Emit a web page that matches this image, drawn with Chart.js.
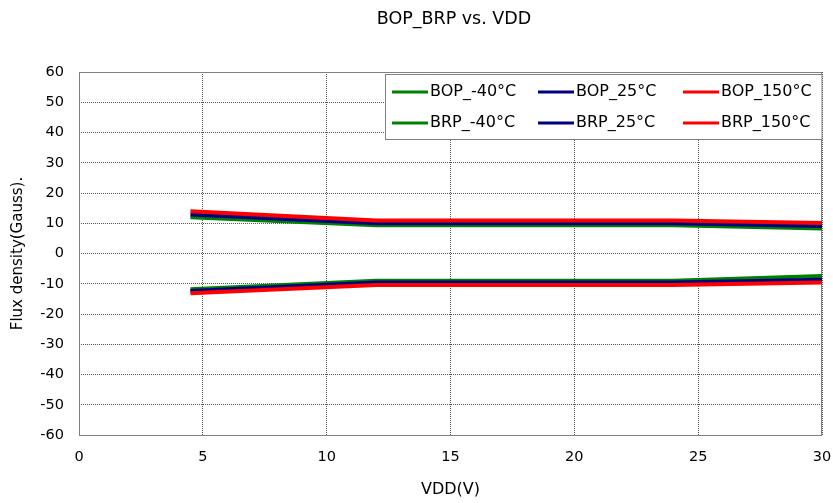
<!DOCTYPE html>
<html>
<head>
<meta charset="utf-8">
<title>BOP_BRP vs. VDD</title>
<script src="https://cdn.jsdelivr.net/npm/chart.js@4/dist/chart.umd.min.js"></script>
<style>
  html, body { margin: 0; padding: 0; background: #fff; }
  #wrap { width: 833px; height: 503px; }
</style>
</head>
<body>
<div id="wrap"><canvas id="bopBrpChart" width="833" height="503"></canvas></div>
<script>
// Supply voltage sample points (V)
const vddPoints = [4.5, 12, 24, 30];

// Operate points (Gauss) per temperature
const bopMinus40 = [12.0, 9.3, 9.3, 8.3];
const bop25 = [12.9, 10.0, 10.0, 9.1];
const bop150 = [14.0, 10.9, 10.9, 10.1];

// Release points (Gauss) per temperature
const brpMinus40 = [-11.8, -9.0, -9.0, -7.4];
const brp25 = [-12.4, -9.6, -9.6, -8.7];
const brp150 = [-13.1, -10.4, -10.4, -9.6];

const seriesLabels = ["BOP_-40°C", "BOP_25°C", "BOP_150°C", "BRP_-40°C", "BRP_25°C", "BRP_150°C"];
const seriesValues = [bopMinus40, bop25, bop150, brpMinus40, brp25, brp150];
const seriesColors = ["#008000", "#000080", "#ff0000", "#008000", "#000080", "#ff0000"];

const xTicks = [0, 5, 10, 15, 20, 25, 30];
const yTicks = [-60, -50, -40, -30, -20, -10, 0, 10, 20, 30, 40, 50, 60];

const FONT = "'DejaVu Sans', Verdana, sans-serif";

function toPoints(values) {
  return values.map((v, i) => ({ x: vddPoints[i], y: v }));
}

// Centre the chart title over the plot instead of the whole canvas
const titleOverPlot = {
  id: "titleOverPlot",
  afterLayout(chart) {
    const t = chart.titleBlock;
    if (!t) return;
    t.left = chart.chartArea.left + 7;
    t.right = chart.chartArea.right;
  },
};

// Gray frame round the plot area
const plotFrame = {
  id: "plotFrame",
  beforeDatasetsDraw(chart) {
    const { ctx, chartArea: a } = chart;
    ctx.save();
    ctx.strokeStyle = "#808080";
    ctx.lineWidth = 1;
    ctx.strokeRect(Math.round(a.left) + 0.5, Math.round(a.top) + 0.5,
      Math.round(a.right - a.left) - 1, Math.round(a.bottom - a.top));
    ctx.restore();
  },
};

// Boxed legend in the top right corner of the plot, three columns by two rows
const boxLegend = {
  id: "boxLegend",
  afterDraw(chart) {
    const { ctx, chartArea: a } = chart;
    const boxLeft = 385.5, boxTop = 74.5;
    const boxW = Math.round(a.right) - boxLeft, boxH = 65;
    const colX = [392, 538, 683];
    const rowY = [92, 123];
    ctx.save();
    ctx.fillStyle = "#fff";
    ctx.fillRect(boxLeft, boxTop, boxW, boxH);
    ctx.strokeStyle = "#808080";
    ctx.lineWidth = 1;
    ctx.strokeRect(boxLeft, boxTop, boxW, boxH);
    ctx.font = "16px " + FONT;
    ctx.textBaseline = "middle";
    chart.data.datasets.forEach((ds, i) => {
      const x = colX[i % 3];
      const y = rowY[Math.floor(i / 3)];
      ctx.strokeStyle = ds.borderColor;
      ctx.lineWidth = 3;
      ctx.beginPath();
      ctx.moveTo(x, y);
      ctx.lineTo(x + 36, y);
      ctx.stroke();
      ctx.fillStyle = "#000";
      ctx.fillText(ds.label, x + 38, y);
    });
    ctx.restore();
  },
};

new Chart(document.getElementById("bopBrpChart"), {
  type: "line",
  data: {
    datasets: seriesLabels.map((label, i) => ({
      label: label,
      data: toPoints(seriesValues[i]),
      borderColor: seriesColors[i],
      backgroundColor: seriesColors[i],
      borderWidth: 4,
      pointRadius: 0,
      tension: 0,
      order: 3 - (i % 3),
    })),
  },
  options: {
    responsive: false,
    animation: false,
    devicePixelRatio: 1,
    layout: { padding: { top: 0, left: 0, right: 11, bottom: 0 } },
    plugins: {
      legend: { display: false },
      tooltip: { enabled: false },
      title: {
        display: true,
        text: "BOP_BRP vs. VDD",
        color: "#000",
        font: { family: FONT, size: 17.5, weight: "normal" },
        padding: { top: 9, bottom: 42 },
      },
    },
    scales: {
      x: {
        type: "linear",
        min: 0,
        max: 30,
        afterBuildTicks(scale) {
          scale.ticks = xTicks.map((v) => ({ value: v }));
        },
        afterFit(scale) {
          scale.height = 68;
          scale.paddingLeft = 0;
          scale.paddingRight = 0;
        },
        grid: { color: "#555", lineWidth: 1, drawTicks: false },
        border: { display: false, dash: [1, 1] },
        ticks: { color: "#000", padding: 14, font: { family: FONT, size: 14.5 } },
        title: {
          display: true,
          text: "VDD(V)",
          color: "#000",
          font: { family: FONT, size: 16 },
          padding: { top: 0, bottom: 4 },
        },
      },
      y: {
        min: -60,
        max: 60,
        afterBuildTicks(scale) {
          scale.ticks = yTicks.map((v) => ({ value: v }));
        },
        afterFit(scale) {
          scale.width = 79;
        },
        grid: { color: "#555", lineWidth: 1, drawTicks: false },
        border: { display: false, dash: [1, 1] },
        ticks: { color: "#000", padding: 15, font: { family: FONT, size: 14.5 } },
        title: {
          display: true,
          text: "Flux density(Gauss).",
          color: "#000",
          font: { family: FONT, size: 15 },
          padding: { top: 9, bottom: 0 },
        },
      },
    },
  },
  plugins: [titleOverPlot, plotFrame, boxLegend],
});
</script>
</body>
</html>
